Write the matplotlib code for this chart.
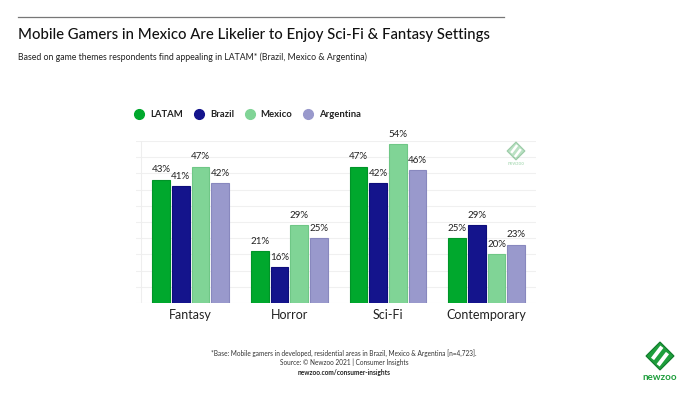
import matplotlib.pyplot as plt
from matplotlib.lines import Line2D
from matplotlib.patches import RegularPolygon
import numpy as np

plt.rcParams['font.family'] = ['Lato', 'DejaVu Sans']

categories = ["Fantasy", "Horror", "Sci-Fi", "Contemporary"]
series = ["LATAM", "Brazil", "Mexico", "Argentina"]
latam = [43, 21, 47, 25]
brazil = [41, 16, 42, 29]
mexico = [47, 29, 54, 20]
argentina = [42, 25, 46, 23]

colors = ["#00A82D", "#14148C", "#80D496", "#9999CC"]
edges = ["#009428", "#0D0D7A", "#6FC786", "#8888BE"]

fig = plt.figure(figsize=(7, 3.94), dpi=100)
ax = fig.add_axes([0.1943, 0.231, 0.5714, 0.411])

x = np.arange(len(categories))
step = 0.2
width = 0.18
values = [latam, brazil, mexico, argentina]
for i, vals in enumerate(values):
    pos = x + (i - 1.5) * step
    bars = ax.bar(pos, vals, width, color=colors[i], edgecolor=edges[i], linewidth=0.8, zorder=3)
    for b, v in zip(bars, vals):
        ax.annotate(f"{v}%", (b.get_x() + b.get_width() / 2, v), textcoords="offset points",
                    xytext=(0, 4), ha='center', va='bottom', fontsize=7, color='#222222')

# axis starts at 5%, not 0
ax.set_xlim(-0.554, 3.5)
ax.set_ylim(5, 55)
ax.set_yticks(np.arange(5, 56, 5))
ax.yaxis.grid(True, color='#f0f0f0', linewidth=0.8, zorder=0)
ax.axvline(-0.5, color='#eeeeee', linewidth=0.8, zorder=1)
ax.tick_params(axis='y', length=0, labelleft=False)
ax.tick_params(axis='x', length=0, pad=4)
ax.set_xticks(x)
ax.set_xticklabels(categories, fontsize=9, color='#222222')
for s in ax.spines.values():
    s.set_visible(False)
ax.set_axisbelow(True)

handles = [Line2D([], [], marker='o', linestyle='none', markersize=7, color=c) for c in colors]
leg = ax.legend(handles, series, ncol=4, frameon=False, loc='lower left',
                bbox_to_anchor=(-0.025, 1.11), fontsize=6.8, handletextpad=0.15, columnspacing=0.7,
                borderaxespad=0)
for t in leg.get_texts():
    t.set_fontweight('bold')
    t.set_color('#222222')

# header
fig.add_artist(Line2D([18 / 700, 504 / 700], [1 - 17 / 394, 1 - 17 / 394], color='#777777', linewidth=0.9))
fig.text(18 / 700, 1 - 35 / 394, "Mobile Gamers in Mexico Are Likelier to Enjoy Sci-Fi & Fantasy Settings",
         fontsize=10.7, fontweight='medium', color='#111111', va='center', ha='left')
fig.text(18 / 700, 1 - 57 / 394, "Based on game themes respondents find appealing in LATAM* (Brazil, Mexico & Argentina)",
         fontsize=6.3, color='#222222', va='center', ha='left')

# footer
fig.text(344 / 700, 1 - 353 / 394,
         "*Base: Mobile gamers in developed, residential areas in Brazil, Mexico & Argentina [n=4,723].",
         fontsize=4.7, color='#333333', ha='center', va='center')
fig.text(344 / 700, 1 - 362 / 394, "Source: \u00a9 Newzoo 2021 | Consumer Insights",
         fontsize=4.7, color='#333333', ha='center', va='center')
fig.text(344 / 700, 1 - 372 / 394, "newzoo.com/consumer-insights",
         fontsize=4.7, color='#222222', ha='center', va='center', fontweight='bold')


def logo(cx, cy, size, alpha, text_size, gap):
    d = RegularPolygon((cx, 394 - cy), 4, radius=size, orientation=0,
                       facecolor='#1E9E3C', edgecolor='#0E7A2A', linewidth=0.8, alpha=alpha,
                       transform=None)
    fig.add_artist(d)
    fig.add_artist(Line2D([cx - size * 0.45, cx + size * 0.05], [394 - cy - size * 0.1, 394 - cy + size * 0.55],
                          color='white', linewidth=size * 0.2, transform=None))
    fig.add_artist(Line2D([cx - size * 0.05, cx + size * 0.45], [394 - cy - size * 0.55, 394 - cy + size * 0.1],
                          color='white', linewidth=size * 0.2, transform=None))
    fig.text(cx / 700, 1 - (cy + size + gap) / 394, "newzoo", fontsize=text_size, color='#1E9E3C',
             fontweight='bold', ha='center', va='center', alpha=alpha)


logo(660, 356, 14, 1.0, 7, 7)
logo(516, 151, 9, 0.3, 3.5, 3)

fig.savefig("out.png", dpi=100)
